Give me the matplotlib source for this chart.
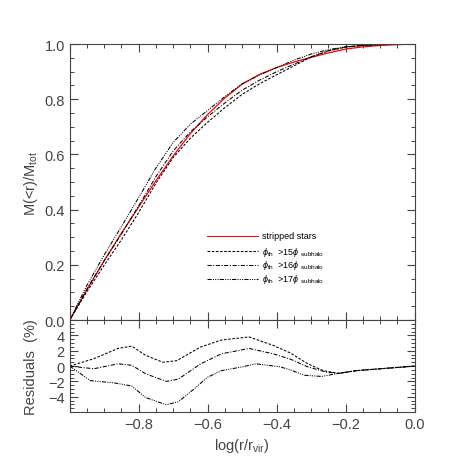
import numpy as np
import matplotlib
matplotlib.use("Agg")
import matplotlib.pyplot as plt
from matplotlib.ticker import MultipleLocator

# cumulative mass profiles (shared log r grid)
logr = [-1.0, -0.95, -0.9, -0.85, -0.8, -0.75, -0.7, -0.65, -0.6, -0.55, -0.5,
        -0.45, -0.4, -0.35, -0.3, -0.25, -0.2, -0.15, -0.1, -0.05, 0.0]
m_stripped = [0.0, 0.11, 0.215, 0.315, 0.41, 0.505, 0.595, 0.676, 0.745, 0.805, 0.855,
              0.89, 0.915, 0.935, 0.952, 0.968, 0.982, 0.99, 0.995, 0.998, 1.0]
m_th15 = [0.0, 0.103, 0.199, 0.291, 0.39, 0.496, 0.589, 0.659, 0.717, 0.77, 0.818,
          0.856, 0.889, 0.921, 0.953, 0.975, 0.989, 0.995, 0.998, 0.999, 1.0]
m_th16 = [0.0, 0.113, 0.215, 0.312, 0.414, 0.52, 0.613, 0.682, 0.737, 0.787, 0.833,
          0.869, 0.9, 0.927, 0.954, 0.976, 0.99, 0.995, 0.998, 0.999, 1.0]
m_th17 = [0.0, 0.126, 0.236, 0.339, 0.444, 0.551, 0.644, 0.71, 0.76, 0.81, 0.856,
          0.888, 0.915, 0.942, 0.964, 0.98, 0.99, 0.995, 0.998, 0.999, 1.0]

# residuals (%) with their own sampling
res15_x = [-1.0, -0.93, -0.86, -0.82, -0.78, -0.73, -0.69, -0.62, -0.56, -0.48,
           -0.41, -0.36, -0.31, -0.265, -0.22, -0.17, -0.1, 0.0]
res15_y = [0.0, 0.96, 2.3, 2.6, 1.4, 0.5, 0.7, 2.5, 3.4, 3.8,
           2.7, 1.7, 0.3, -0.6, -0.95, -0.6, -0.35, 0.0]
res16_x = [-1.0, -0.93, -0.86, -0.82, -0.78, -0.72, -0.685, -0.62, -0.56, -0.48,
           -0.41, -0.36, -0.31, -0.255, -0.22, -0.17, -0.1, 0.0]
res16_y = [0.0, -0.35, 0.3, 0.1, -1.0, -2.0, -1.7, 0.3, 1.6, 2.3,
           1.6, 0.9, -0.1, -0.8, -0.95, -0.6, -0.35, 0.0]
res17_x = [-1.0, -0.94, -0.87, -0.82, -0.78, -0.72, -0.685, -0.64, -0.6, -0.56,
           -0.5, -0.46, -0.39, -0.36, -0.32, -0.27, -0.22, -0.17, -0.1, 0.0]
res17_y = [0.0, -1.9, -2.2, -2.6, -4.1, -5.05, -4.65, -3.0, -1.45, -0.6,
           -0.1, 0.3, -0.1, -0.5, -1.2, -1.35, -0.95, -0.6, -0.35, 0.0]

labels = ["stripped stars",
          r"$\phi_{\rm th}$  >15$\phi$ $_{\rm subhalo}$",
          r"$\phi_{\rm th}$  >16$\phi$ $_{\rm subhalo}$",
          r"$\phi_{\rm th}$  >17$\phi$ $_{\rm subhalo}$"]

plt.rcParams['font.family'] = ['Liberation Sans', 'DejaVu Sans']
plt.rcParams['mathtext.fontset'] = 'custom'
plt.rcParams['mathtext.rm'] = 'Liberation Sans'
plt.rcParams['mathtext.it'] = 'Liberation Sans:italic'

txt = '#444444'
ls15 = (0, (2.5, 1.5))
ls16 = (0, (4, 1.5, 1, 1.5))
ls17 = (0, (4, 1.2, 1, 1.2, 1, 1.2, 1, 1.2))
lw = 0.75

fig = plt.figure(figsize=(4.6, 4.6), dpi=100)
ax = fig.add_axes([0.1515, 0.302, 0.75, 0.6])
axr = fig.add_axes([0.1515, 0.102, 0.75, 0.2], sharex=ax)

ax.plot(logr, m_stripped, color='red', lw=0.9)
ax.plot(logr, m_th15, color='black', lw=lw, ls=ls15)
ax.plot(logr, m_th16, color='black', lw=lw, ls=ls16)
ax.plot(logr, m_th17, color='black', lw=lw, ls=ls17)

# legend drawn by hand, like the IDL original
leg_y = [0.305, 0.249, 0.201, 0.149]
styles = [('red', '-'), ('black', ls15), ('black', ls16), ('black', ls17)]
for yy, (c, s), lab in zip(leg_y, styles, labels):
    ax.plot([0.397, 0.547], [yy, yy], color=c, ls=s, lw=lw, transform=ax.transAxes)
    ax.text(0.557, yy, lab, transform=ax.transAxes, fontsize=6.5, va='center', color='black')

axr.plot(res15_x, res15_y, color='black', lw=lw, ls=ls15)
axr.plot(res16_x, res16_y, color='black', lw=lw, ls=ls16)
axr.plot(res17_x, res17_y, color='black', lw=lw, ls=ls17)

ax.set_xlim(-1.0, 0.0)
ax.set_ylim(0.0, 1.0)
axr.set_ylim(-6, 6)

ax.yaxis.set_major_locator(MultipleLocator(0.2))
ax.yaxis.set_minor_locator(MultipleLocator(0.05))
ax.xaxis.set_major_locator(MultipleLocator(0.2))
ax.xaxis.set_minor_locator(MultipleLocator(0.05))
axr.set_yticks([-4, -2, 0, 2, 4])
axr.yaxis.set_minor_locator(MultipleLocator(0.5))
ax.yaxis.set_major_formatter(plt.FormatStrFormatter('%.1f'))
axr.xaxis.set_major_formatter(plt.FuncFormatter(
    lambda v, p: '' if v < -0.99 else ('%.1f' % v).replace('-', '\u2212')))
axr.yaxis.set_major_formatter(plt.FuncFormatter(
    lambda v, p: ('%d' % v).replace('-', '\u2212')))

for a in (ax, axr):
    a.tick_params(which='both', direction='in', top=True, right=True,
                  labelsize=10.5, labelcolor=txt, color='#444444')
    a.tick_params(which='major', length=6, width=0.8)
    a.tick_params(which='minor', length=3, width=0.7)
    for sp in a.spines.values():
        sp.set_linewidth(0.8)
        sp.set_color('#444444')
ax.tick_params(labelbottom=False)

ax.set_ylabel(r"M(<r)/M$_{\rm tot}$", fontsize=10.5, color=txt, labelpad=3)
axr.set_ylabel("Residuals  (%)", fontsize=10.5, color=txt, labelpad=7)
axr.set_xlabel(r"log(r/r$_{\rm vir}$)", fontsize=10.5, color=txt, labelpad=4)

fig.savefig('out.png', dpi=100)
